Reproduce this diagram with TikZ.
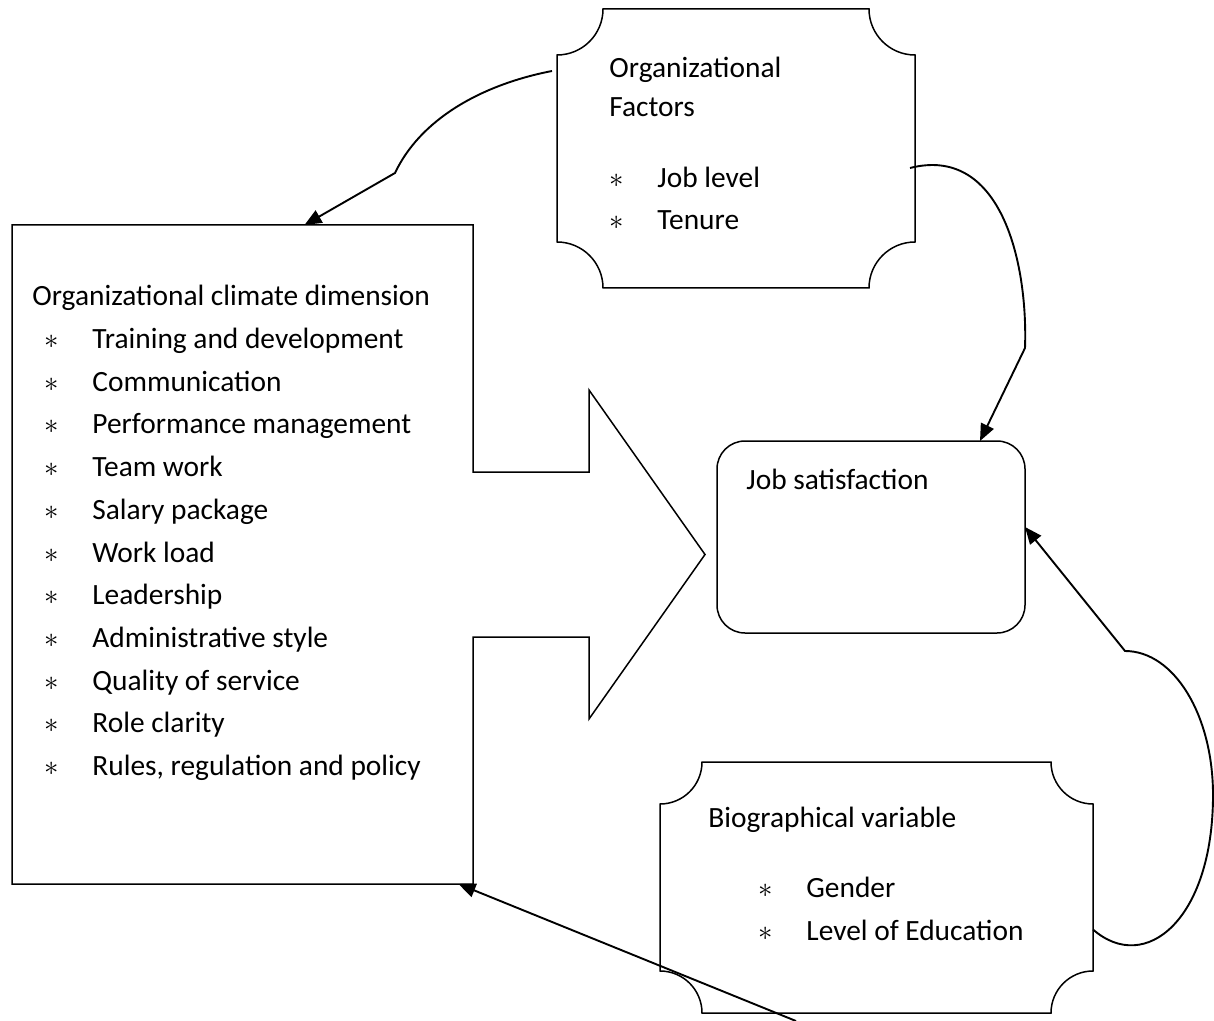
\documentclass[tikz,border=0pt]{standalone}
\usepackage{fontspec}
\setmainfont{Carlito}
\usetikzlibrary{arrows.meta}

\newcommand{\letra}{\fontsize{14.7pt}{21.35pt}\selectfont}
\newcommand{\vineta}{\makebox[24pt][l]{$\ast$}}
% marco con esquinas recortadas en arco
\newcommand{\placa}[2]{%
  \draw[trazo] ([xshift=#2]#1.north west) -- ([xshift=-#2]#1.north east)
    arc[start angle=180, end angle=270, radius=#2]
    -- ([yshift=#2]#1.south east)
    arc[start angle=90, end angle=180, radius=#2]
    -- ([xshift=#2]#1.south west)
    arc[start angle=0, end angle=90, radius=#2]
    -- ([yshift=-#2]#1.north west)
    arc[start angle=270, end angle=360, radius=#2] -- cycle;
}

\tikzset{
  marco/.style={rectangle, inner sep=0pt, outer sep=0pt, line width=0.75pt},
  trazo/.style={line width=0.75pt, line join=miter},
  texto/.style={anchor=base west, align=left, inner sep=0pt, font=\letra},
  enlace/.style={-{Triangle[length=8.5pt,width=7pt]}, line width=0.95pt}
}

\begin{document}
\begin{tikzpicture}[x=0.5pt, y=-0.5pt]
  \useasboundingbox (0,0) rectangle (1214,1021);
  % cajas
  \node[marco, minimum width=179pt, minimum height=139.5pt] (factores) at (736,148.5) {};
  \node[marco, minimum width=230.5pt, minimum height=329.5pt] (clima) at (242.5,554.5) {};
  \node[marco, draw, rounded corners=14pt, minimum width=154pt, minimum height=96pt] (satisf) at (871,537) {};
  \node[marco, minimum width=216.5pt, minimum height=125.5pt] (biogr) at (876.5,887.5) {};
  \placa{factores}{23pt}
  \placa{biogr}{21pt}
  % caja del clima con la flecha ancha
  \draw[trazo] (clima.north west) -- (clima.north east)
    -- ([yshift=41.25pt]clima.east) -- ++(58pt,0) -- ++(0,41pt)
    -- ([xshift=116pt]clima.east)
    -- ([xshift=58pt,yshift=-82.25pt]clima.east) -- ++(0,41pt)
    -- ([yshift=-41.25pt]clima.east) -- (clima.south east)
    -- (clima.south west) -- cycle;
  % textos (anclados en la linea base de la ultima linea)
  \node[texto] (factorestxt) at (609,230) {Organizational\\[-2pt]Factors\\[14pt]\vineta Job level\\\vineta Tenure};
  \node[texto] (climatxt) at (32,775.5) {Organizational climate dimension\\
    \hspace*{6pt}\vineta Training and development\\
    \hspace*{6pt}\vineta Communication\\
    \hspace*{6pt}\vineta Performance management\\
    \hspace*{6pt}\vineta Team work\\
    \hspace*{6pt}\vineta Salary package\\
    \hspace*{6pt}\vineta Work load\\
    \hspace*{6pt}\vineta Leadership\\
    \hspace*{6pt}\vineta Administrative style\\
    \hspace*{6pt}\vineta Quality of service\\
    \hspace*{6pt}\vineta Role clarity\\
    \hspace*{6pt}\vineta Rules, regulation and policy};
  \node[texto] (satisftxt) at (746,489) {Job satisfaction};
  \node[texto] (biogrtxt) at (708,940) {Biographical variable\\[13.5pt]
    \hspace*{25pt}\vineta Gender\\
    \hspace*{25pt}\vineta Level of Education};
  % conexiones
  \coordinate (q1) at (395,173);
  \coordinate (q2) at (1025,348);
  \coordinate (q3) at (1125,651);
  \draw[enlace] ([xshift=-2.5pt,yshift=-31pt]factores.north west) .. controls (480,85) and (420,120) .. (q1) -- ([xshift=31pt]clima.north);
  \draw[enlace] ([xshift=-2.5pt,yshift=-79.5pt]factores.north east) .. controls (1000,145) and (1028,260) .. (q2) -- ([xshift=54.5pt]satisf.north);
  \draw[enlace] ([yshift=-21pt]biogr.east) .. controls (1145,975) and (1213,920) .. (1213,795)
    .. controls (1213,715) and (1174,651) .. (q3) -- ([yshift=5pt]satisf.east);
  \draw[enlace] ([xshift=68pt,yshift=-4pt]biogr.south west) -- ([xshift=108pt]clima.south);
\end{tikzpicture}
\end{document}
